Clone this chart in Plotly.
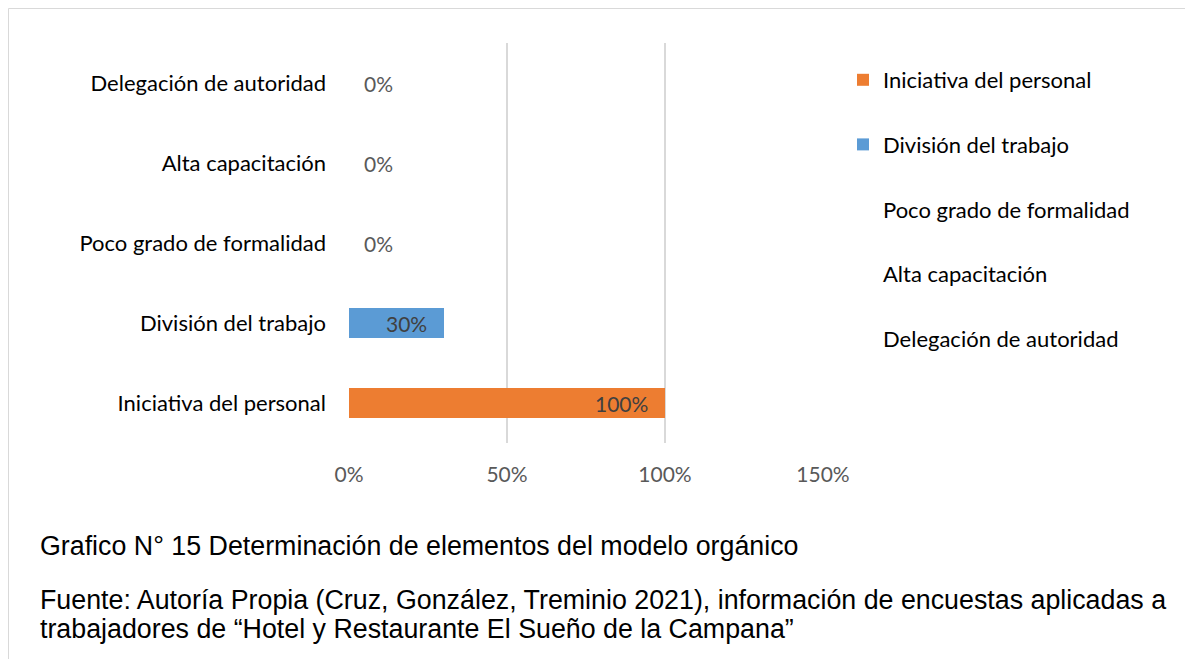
import plotly.graph_objects as go

categories = ["Iniciativa del personal", "División del trabajo", "Poco grado de formalidad",
              "Alta capacitación", "Delegación de autoridad"]
values = [1.00, 0.30, 0.00, 0.00, 0.00]
colors = ["#ED7D31", "#5B9BD5", "rgba(0,0,0,0)", "rgba(0,0,0,0)", "rgba(0,0,0,0)"]
x_ticks = [0, 0.5, 1.0, 1.5]
x_tick_labels = ["0%", "50%", "100%", "150%"]

caption_title = "Grafico N° 15 Determinación de elementos del modelo orgánico"
caption_source_1 = "Fuente: Autoría Propia (Cruz, González, Treminio 2021), información de encuestas aplicadas a"
caption_source_2 = "trabajadores de “Hotel y Restaurante El Sueño de la Campana”"

# page body has an 8px margin; work in figure pixels
OFF = 8
W, H = 1193 - OFF, 659 - OFF
L, R, T, B = 349 - OFF, 823 - OFF, 43 - OFF, 443 - OFF

def px(xs):
    return (xs - OFF - L) / (R - L)

def py(ys):
    return (B - (ys - OFF)) / (B - T)

FONT = "Lato"
CAP = "Liberation Sans, Arial"
fig = go.Figure()
for i, (cat, v, c) in enumerate(zip(categories, values, colors)):
    fig.add_trace(go.Bar(
        y=[cat], x=[v], orientation="h", name=cat, marker=dict(color=c, line=dict(width=0)),
        width=0.37, legendgroup=f"g{i}", hoverinfo="x+name",
    ))
    if v > 0:
        fig.add_annotation(x=v, y=cat, xref="x", yref="y", text=f"{v:.0%}", showarrow=False,
                           xanchor="right", xshift=-15,
                           font=dict(family=FONT, size=21, color="#404040"))
    else:
        fig.add_annotation(x=v, y=cat, xref="x", yref="y", text=f"{v:.0%}", showarrow=False,
                           xanchor="left", xshift=13,
                           font=dict(family=FONT, size=21, color="#595959"))

for txt, yc in [(caption_title, 546), (caption_source_1, 600), (caption_source_2, 629)]:
    fig.add_annotation(xref="paper", yref="paper", x=px(38), y=py(yc), text=txt,
                       showarrow=False, xanchor="left", yanchor="middle", align="left",
                       font=dict(family=CAP, size=26.8, color="#000000"))

fig.add_shape(type="rect", xref="paper", yref="paper", x0=px(8.5), x1=px(1189.5), y0=py(680), y1=py(8.5),
              line=dict(color="#d9d9d9", width=1), fillcolor="rgba(0,0,0,0)", layer="below")

fig.update_layout(
    width=W, height=H, barmode="stack",
    margin=dict(l=L, r=W - R, t=T, b=H - B),
    paper_bgcolor="white", plot_bgcolor="white",
    xaxis=dict(range=[0, 1.5], tickvals=x_ticks, ticktext=x_tick_labels, showgrid=True,
               gridcolor="#d9d9d9", gridwidth=1.5, zeroline=False, showline=False,
               tickfont=dict(family=FONT, size=21, color="#595959"), ticks="", ticklabelstandoff=17),
    yaxis=dict(categoryorder="array", categoryarray=categories, showgrid=False, showline=False,
               zeroline=False, ticks="", tickfont=dict(family=FONT, size=22, color="#000000"),
               ticklabelstandoff=22),
    legend=dict(x=px(843), y=py(59), xanchor="left", yanchor="top", traceorder="grouped",
                tracegroupgap=33, font=dict(family=FONT, size=22, color="#000000"),
                bgcolor="rgba(0,0,0,0)"),
    showlegend=True,
)

fig.write_html("out.html")
